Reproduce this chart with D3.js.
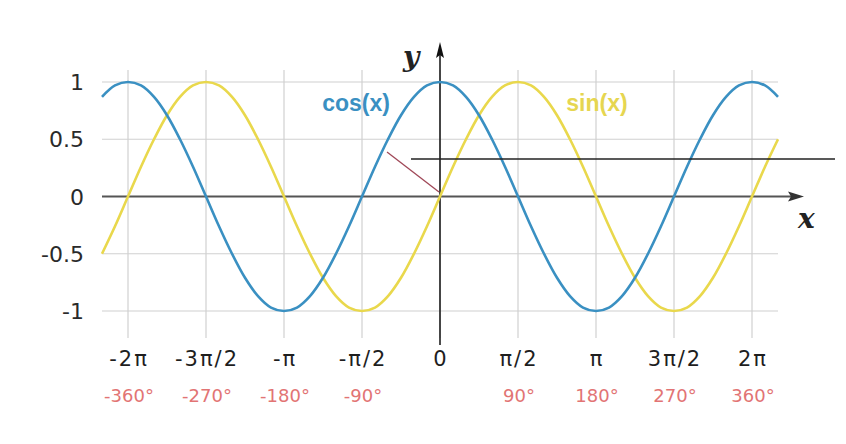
<!DOCTYPE html>
<html><head><meta charset="utf-8">
<script src="https://cdn.jsdelivr.net/npm/d3@7"></script>
<style>body{margin:0;background:#fff}svg{display:block}</style>
</head><body>
<svg id="c" width="846" height="444"></svg>
<script>
const degrees = [-390,-375,-360,-345,-330,-315,-300,-285,-270,-255,-240,-225,-210,-195,-180,-165,-150,-135,-120,-105,-90,-75,-60,-45,-30,-15,0,15,30,45,60,75,90,105,120,135,150,165,180,195,210,225,240,255,270,285,300,315,330,345,360,375,390];
const sinValues = [-0.5,-0.26,0,0.26,0.5,0.71,0.87,0.97,1,0.97,0.87,0.71,0.5,0.26,0,-0.26,-0.5,-0.71,-0.87,-0.97,-1,-0.97,-0.87,-0.71,-0.5,-0.26,0,0.26,0.5,0.71,0.87,0.97,1,0.97,0.87,0.71,0.5,0.26,0,-0.26,-0.5,-0.71,-0.87,-0.97,-1,-0.97,-0.87,-0.71,-0.5,-0.26,0,0.26,0.5];
const cosValues = [0.87,0.97,1,0.97,0.87,0.71,0.5,0.26,0,-0.26,-0.5,-0.71,-0.87,-0.97,-1,-0.97,-0.87,-0.71,-0.5,-0.26,0,0.26,0.5,0.71,0.87,0.97,1,0.97,0.87,0.71,0.5,0.26,0,-0.26,-0.5,-0.71,-0.87,-0.97,-1,-0.97,-0.87,-0.71,-0.5,-0.26,0,0.26,0.5,0.71,0.87,0.97,1,0.97,0.87];
const xTicks = [-360,-270,-180,-90,0,90,180,270,360];
const xTickLabels = ["-2π","-3π/2","-π","-π/2","0","π/2","π","3π/2","2π"];
const degLabels = ["-360°","-270°","-180°","-90°","","90°","180°","270°","360°"];
const yTicks = [1,0.5,0,-0.5,-1];
const yTickLabels = ["1","0.5","0","-0.5","-1"];

const svg = d3.select("#c");
const x = d3.scaleLinear().domain([-390,390]).range([102,778]);
const y = d3.scaleLinear().domain([-1,1]).range([311,82]);

// grid
svg.append("g").selectAll("line").data(yTicks).join("line")
  .attr("x1",x(-390)).attr("x2",x(390))
  .attr("y1",d=>y(d)).attr("y2",d=>y(d))
  .attr("stroke","#d0d0d0").attr("stroke-width",1.2);
svg.append("g").selectAll("line").data(xTicks).join("line")
  .attr("x1",d=>x(d)).attr("x2",d=>x(d))
  .attr("y1",y(1)-12).attr("y2",338)
  .attr("stroke","#d0d0d0").attr("stroke-width",1.2);

// y tick labels
svg.append("g").selectAll("text").data(yTicks).join("text")
  .attr("x",84).attr("y",d=>y(d)+8).attr("text-anchor","end")
  .attr("font-family","DejaVu Sans, sans-serif").attr("font-size",22)
  .attr("fill","#2a2a2a").text((d,i)=>yTickLabels[i]);

// x tick labels
svg.append("g").selectAll("text").data(xTicks).join("text")
  .attr("x",d=>x(d)+1).attr("y",366).attr("text-anchor","middle")
  .attr("font-family","DejaVu Sans, sans-serif").attr("font-size",21).attr("letter-spacing",2)
  .attr("fill","#1e1e1e").text((d,i)=>xTickLabels[i]);
svg.append("g").selectAll("text").data(xTicks).join("text")
  .attr("x",d=>x(d)+1).attr("y",402).attr("text-anchor","middle")
  .attr("font-family","DejaVu Sans, sans-serif").attr("font-size",18)
  .attr("fill","#e27474").text((d,i)=>degLabels[i]);

// x axis
svg.append("line").attr("x1",x(-390)).attr("x2",795).attr("y1",y(0)).attr("y2",y(0))
  .attr("stroke","#555").attr("stroke-width",2);
svg.append("path").attr("d",`M804,${y(0)} L788,${y(0)-5} L791,${y(0)} L788,${y(0)+5} Z`).attr("fill","#333");
// y axis
svg.append("line").attr("x1",x(0)).attr("x2",x(0)).attr("y1",52).attr("y2",345)
  .attr("stroke","#111").attr("stroke-width",1.5);
svg.append("path").attr("d",`M${x(0)},42 L${x(0)-4},58 L${x(0)},55 L${x(0)+4},58 Z`).attr("fill","#111");

svg.append("text").attr("x",798).attr("y",228).attr("font-family","DejaVu Serif, serif")
  .attr("font-style","italic").attr("font-weight","bold").attr("font-size",28).attr("fill","#222").text("x");
svg.append("text").attr("x",403).attr("y",66).attr("font-family","DejaVu Serif, serif")
  .attr("font-style","italic").attr("font-weight","bold").attr("font-size",28).attr("fill","#222").text("y");

const pts = degrees.map((d,i)=>({d,s:sinValues[i],c:cosValues[i]}));
const lineS = d3.line().x(p=>x(p.d)).y(p=>y(p.s)).curve(d3.curveCatmullRom);
const lineC = d3.line().x(p=>x(p.d)).y(p=>y(p.c)).curve(d3.curveCatmullRom);
svg.append("path").attr("d",lineS(pts)).attr("fill","none").attr("stroke","#e9d84c").attr("stroke-width",2.6);
svg.append("path").attr("d",lineC(pts)).attr("fill","none").attr("stroke","#3a90c2").attr("stroke-width",2.6);

// stray lines
svg.append("line").attr("x1",411).attr("x2",835).attr("y1",159).attr("y2",159).attr("stroke","#222").attr("stroke-width",1.5);
svg.append("line").attr("x1",387).attr("x2",439).attr("y1",152).attr("y2",192).attr("stroke","#a04858").attr("stroke-width",1.3);

svg.append("text").attr("x",356).attr("y",111).attr("text-anchor","middle")
  .attr("font-family","Liberation Sans, Arial, sans-serif").attr("font-weight","bold").attr("font-size",23)
  .attr("fill","#3a90c2").text("cos(x)");
svg.append("text").attr("x",597).attr("y",111).attr("text-anchor","middle")
  .attr("font-family","Liberation Sans, Arial, sans-serif").attr("font-weight","bold").attr("font-size",23)
  .attr("fill","#e6d650").text("sin(x)");
</script>
</body></html>
